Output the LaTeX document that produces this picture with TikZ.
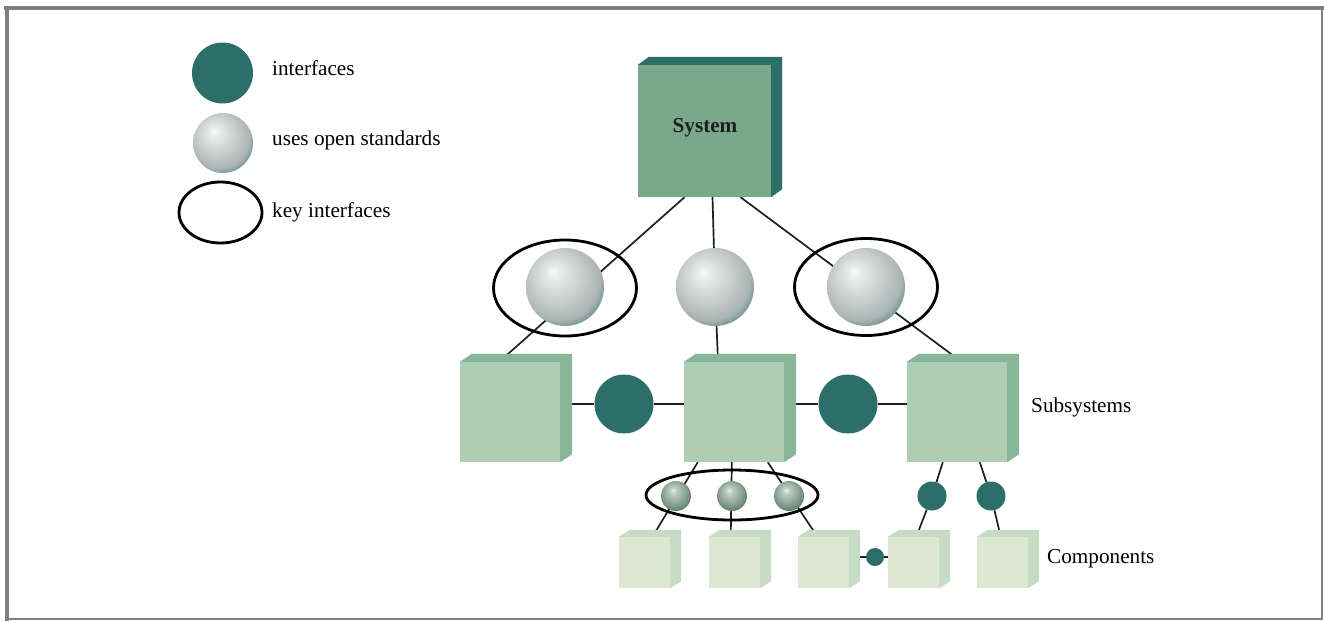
\documentclass[tikz,border=0pt]{standalone}
\usepackage{fontspec}
\setmainfont{Liberation Serif}
\usetikzlibrary{shapes.geometric,calc}
\definecolor{teal1}{HTML}{2C6F68}
\definecolor{sysfront}{HTML}{7AA88A}
\definecolor{subfront}{HTML}{AECDB3}
\definecolor{subside}{HTML}{88B699}
\definecolor{cmpfront}{HTML}{DDE8D2}
\definecolor{cmpside}{HTML}{C6DCC6}
\definecolor{framec}{HTML}{808080}
\definecolor{linec}{HTML}{1E1E1E}
\definecolor{bs0}{HTML}{F8F9F9}
\definecolor{bs1}{HTML}{E6E9E9}
\definecolor{bs2}{HTML}{C8CECD}
\definecolor{bs3}{HTML}{AAB5B3}
\definecolor{bs4}{HTML}{5E8884}
\definecolor{ss0}{HTML}{E8EFE9}
\definecolor{ss1}{HTML}{BCCBBF}
\definecolor{ss2}{HTML}{97AD9E}
\definecolor{ss3}{HTML}{6D8C78}
\definecolor{ss4}{HTML}{3C6A52}
\pgfdeclareradialshading{bigsph}{\pgfpoint{-8bp}{10bp}}{color(0bp)=(bs0); color(5bp)=(bs1); color(16bp)=(bs2); color(26bp)=(bs3); color(32bp)=(bs4); color(36bp)=(teal1); color(50bp)=(teal1)}
\pgfdeclareradialshading{smallsph}{\pgfpoint{-5bp}{10bp}}{color(0bp)=(ss0); color(6bp)=(ss1); color(16bp)=(ss2); color(26bp)=(ss3); color(33bp)=(ss4); color(50bp)=(ss4)}
\pgfdeclarelayer{bg}\pgfsetlayers{bg,main}
\newcommand\mkcube[7]{% name, center, width, height, depth, front, side
  \node[fill=#6, minimum width=#3, minimum height=#4, inner sep=0pt] (#1) at #2 {};
  \fill[#7] (#1.south east) -- (#1.north east) -- (#1.north west)
    -- ($(#1.north west)+#5$) -- ($(#1.north east)+#5$) -- ($(#1.south east)+#5$) -- cycle;
}
\tikzset{
  conn/.style={line width=1.7pt, draw=linec},
  iface/.style={circle, fill=teal1, inner sep=0pt},
  bigball/.style={circle, shade, shading=bigsph, inner sep=0pt, minimum size=78pt},
  smallball/.style={circle, shade, shading=smallsph, inner sep=0pt, minimum size=30pt},
  keyring/.style={ellipse, draw=black, line width=2.8pt, inner sep=0pt},
  lbl/.style={anchor=base west, inner sep=0pt, font=\fontsize{21.2}{25}\selectfont},
}
\begin{document}
\begin{tikzpicture}[x=1pt,y=-1pt]
\useasboundingbox (0,0) rectangle (1324,621);
% frame
\draw[framec, line width=4pt] (4,8) -- (1324,8);
\draw[framec, line width=4pt] (7,6) -- (7,621);
\draw[framec, line width=2pt] (1322,8) -- (1322,620);
\draw[framec, line width=2pt] (7,619) -- (1323,619);

% legend
\node[iface, minimum size=61pt] (lg1) at (222.5,73) {};
\node[lbl] (lt1) at (272,75) {interfaces};
\node[bigball, minimum size=60pt] (lg2) at (223,143) {};
\node[lbl] (lt2) at (272,145) {uses open standards};
\node[keyring, minimum width=83pt, minimum height=61pt] (lg3) at (220.5,212.5) {};
\node[lbl] (lt3) at (272,217) {key interfaces};

% cubes
\mkcube{sys}{(704.5,131)}{133pt}{132pt}{(11,-8)}{sysfront}{teal1}
\node[anchor=base, inner sep=0pt, font=\fontsize{21.2}{25}\selectfont\bfseries, text=black!88] (systxt) at (705,132) {System};
\mkcube{sub1}{(510,412)}{100pt}{100pt}{(12,-8)}{subfront}{subside}
\mkcube{sub2}{(734,412)}{100pt}{100pt}{(12,-8)}{subfront}{subside}
\mkcube{sub3}{(957,412)}{100pt}{100pt}{(12,-8)}{subfront}{subside}
\node[lbl] (subtxt) at (1031,412) {Subsystems};
\mkcube{cmp1}{(644.5,562.5)}{51pt}{51pt}{(11,-7)}{cmpfront}{cmpside}
\mkcube{cmp2}{(734.5,562.5)}{51pt}{51pt}{(11,-7)}{cmpfront}{cmpside}
\mkcube{cmp3}{(823.5,562.5)}{51pt}{51pt}{(11,-7)}{cmpfront}{cmpside}
\mkcube{cmp4}{(913.5,562.5)}{51pt}{51pt}{(11,-7)}{cmpfront}{cmpside}
\mkcube{cmp5}{(1002.5,562.5)}{51pt}{51pt}{(11,-7)}{cmpfront}{cmpside}
\node[lbl] (cmptxt) at (1047,563) {Components};

% big spheres
\node[bigball] (s1) at (565,287) {};
\node[bigball] (s2) at (715,287) {};
\node[bigball] (s3) at (866,287) {};
\node[keyring, minimum width=143pt, minimum height=96pt] (k1) at (565,288) {};
\node[keyring, minimum width=143pt, minimum height=97pt] (k3) at (866,287) {};

% interfaces between subsystems
\node[iface, minimum size=59pt] (i1) at (624,404) {};
\node[iface, minimum size=59pt] (i2) at (848,404) {};

% small spheres
\node[smallball] (c1) at (676,496) {};
\node[smallball] (c2) at (732,496) {};
\node[smallball] (c3) at (789,496) {};
\node[keyring, minimum width=172pt, minimum height=50pt] (k2) at (732,495) {};

% small interfaces
\node[iface, minimum size=29pt] (j1) at (932,496) {};
\node[iface, minimum size=29pt] (j2) at (991,496) {};
\node[iface, minimum size=18pt] (t1) at (875,557) {};

% connectors
\begin{pgfonlayer}{bg}
\draw[conn] ($(sys.south west)!0.35!(sys.south east)$) -- ($(sub1.north west)+(45,-5)$);
\draw[conn] ($(sys.south west)!0.56!(sys.south east)$) -- (s2.center) -- ($(sub2.north west)+(34,-5)$);
\draw[conn] ($(sys.south west)!0.77!(sys.south east)$) -- ($(sub3.north west)+(48,-5)$);
\draw[conn] ($(sub1.east)+(0,-8)$) -- (i1) -- ($(sub2.west)+(0,-8)$);
\draw[conn] ($(sub2.east)+(0,-8)$) -- (i2) -- ($(sub3.west)+(0,-8)$);
\draw[conn] ($(sub2.south west)+(14,0)$) -- ($(cmp1.north west)+(36,-4)$);
\draw[conn] ($(sub2.south west)+(48,0)$) -- ($(cmp2.north west)+(22,-4)$);
\draw[conn] ($(sub2.south west)+(84,0)$) -- ($(cmp3.north west)+(17,-4)$);
\draw[conn] ($(sub3.south west)+(36,0)$) -- (j1) -- ($(cmp4.north west)+(30,-4)$);
\draw[conn] ($(sub3.south west)+(73,0)$) -- (j2) -- ($(cmp5.north west)+(23,-4)$);
\draw[conn] ($(cmp3.east)+(0,-5.5)$) -- (t1) -- ($(cmp4.west)+(0,-5.5)$);
\end{pgfonlayer}
\end{tikzpicture}
\end{document}
